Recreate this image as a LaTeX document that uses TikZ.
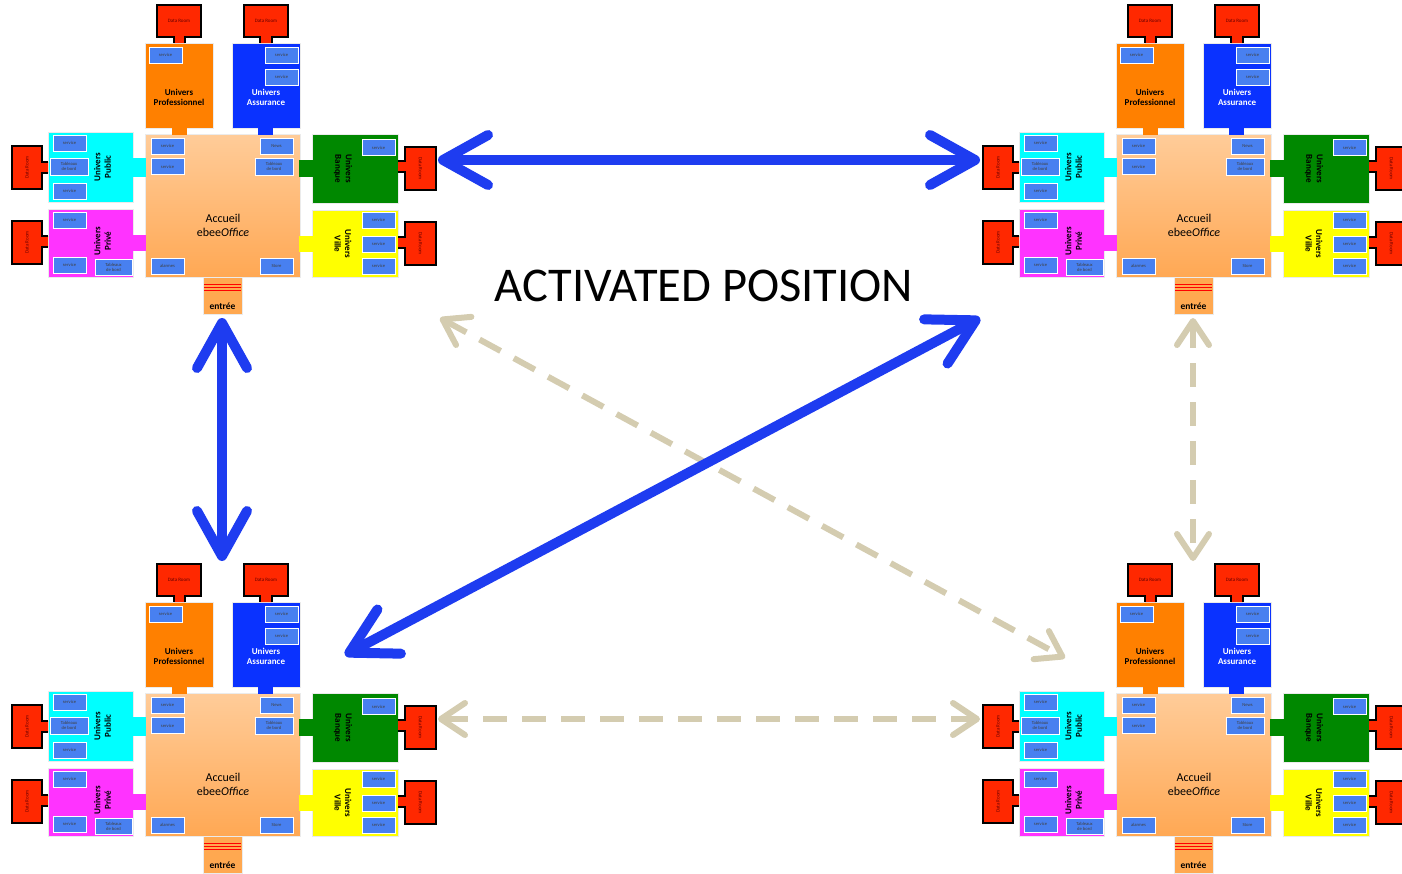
\documentclass[tikz,border=0pt]{standalone}
\usepackage{fontspec}
\setmainfont{Carlito}
\usetikzlibrary{arrows.meta,positioning}

\definecolor{roomred}{RGB}{255,40,0}
\definecolor{svcblue}{RGB}{72,128,240}
\definecolor{proorange}{RGB}{255,128,0}
\definecolor{assblue}{RGB}{10,50,255}
\definecolor{pubcyan}{RGB}{0,255,255}
\definecolor{privmag}{RGB}{255,51,255}
\definecolor{banqgreen}{RGB}{0,136,0}
\definecolor{villeyellow}{RGB}{255,255,0}
\definecolor{acctop}{RGB}{255,204,153}
\definecolor{accbot}{RGB}{255,168,84}
\definecolor{entorange}{RGB}{255,168,80}
\definecolor{linkblue}{RGB}{30,60,240}
\definecolor{linktan}{RGB}{212,204,176}

\tikzset{
  room/.style={draw=black,fill=roomred,line width=1.4pt,line join=miter},
  roomtext/.style={inner sep=0pt,font=\fontsize{5}{6}\selectfont,text=black!60!red},
  svc/.style={draw=white,line width=0.6pt,fill=svcblue,inner sep=0pt,
    minimum width=33pt,minimum height=16pt,align=center,
    font=\fontsize{4.6}{5}\selectfont,text=black!75},
  wide/.style={minimum width=38pt,minimum height=17pt},
  univ/.style={draw=black!8,line width=0.8pt,inner sep=0pt},
  utitle/.style={align=center,font=\fontsize{9}{10.5}\selectfont\bfseries},
  link/.style={linkblue,line width=10pt,line cap=round,
    {Straight Barb[length=45pt,width=50pt,round]}-{Straight Barb[length=45pt,width=50pt,round]}},
  hint/.style={linktan,line width=6pt,dash pattern=on 24pt off 15pt,
    {Straight Barb[length=24pt,width=32pt,round]}-{Straight Barb[length=24pt,width=32pt,round]}},
}

% one ebeeOffice floor: #1 name, (#2,#3) offset
\newcommand{\ebeeoffice}[3]{%
\begin{scope}[shift={(#2,#3)}]
  % universes round the hall
  \node[univ,fill=proorange,minimum width=68pt,minimum height=85pt] (#1-pro) at (179,85.5) {};
  \node[univ,fill=assblue,minimum width=68pt,minimum height=85pt] (#1-ass) at (266,85.5) {};
  \node[univ,fill=pubcyan,minimum width=85pt,minimum height=70pt] (#1-pub) at (90.5,167) {};
  \node[univ,fill=privmag,minimum width=85pt,minimum height=68pt] (#1-priv) at (90.5,243) {};
  \node[univ,fill=banqgreen,minimum width=86pt,minimum height=69pt] (#1-banq) at (355,168.5) {};
  \node[univ,fill=villeyellow,minimum width=86pt,minimum height=67pt] (#1-ville) at (355,243.5) {};
  \node[univ,fill=entorange,minimum width=39pt,minimum height=37pt] (#1-ent) at (222.5,295.5) {};
  \node[univ,top color=acctop,bottom color=accbot,minimum width=155pt,minimum height=143pt] (#1-acc) at (222.5,205.5) {};
  % doors into the hall
  \fill[proorange] (172,127) rectangle (187,135);
  \fill[assblue] (258,127) rectangle (273,135);
  \fill[pubcyan] (132,158) rectangle (146,177);
  \fill[privmag] (132,235) rectangle (146,251);
  \fill[banqgreen] (299,160) rectangle (313,177);
  \fill[villeyellow] (299,236) rectangle (313,252);
  \foreach \y in {284.5,287.5,290.5}
    \draw[red,line width=0.9pt] (204,\y) -- (241,\y);
  % titles
  \node[utitle] (#1-prot) at (179,97.5) {Univers\\Professionnel};
  \node[utitle,text=white] (#1-asst) at (266,97.5) {Univers\\Assurance};
  \node[utitle,rotate=90] (#1-pubt) at (102.5,167) {Univers\\Public};
  \node[utitle,rotate=90] (#1-privt) at (102.5,241) {Univers\\Privé};
  \node[utitle,rotate=-90] (#1-banqt) at (343,169) {Univers\\Banque};
  \node[utitle,rotate=-90] (#1-villet) at (343,244) {Univers\\Ville};
  \node[align=center,font=\fontsize{12}{14}\selectfont] (#1-acct) at (223,225) {Accueil\\ebee\textit{Office}};
  \node[font=\fontsize{9.5}{11}\selectfont\bfseries] (#1-entt) at (222.5,306) {entrée};
  % services
  \foreach \x/\y [count=\i] in {165.5/55,281.5/55,281.5/77,167.5/146,167.5/166.5,
      69.5/143,69.5/191,69.5/220,69.5/265,378.5/147.5,378.5/220,378.5/244,378.5/266}
    \node[svc] (#1-s\i) at (\x,\y) {service};
  \node[svc] (#1-news) at (276.5,146) {News};
  \node[svc] (#1-alarm) at (167.5,266) {alarmes};
  \node[svc] (#1-store) at (276.5,266) {Store};
  \node[svc,wide] (#1-tb1) at (274,166.5) {Tableaux\\de bord};
  \node[svc,wide] (#1-tb2) at (69,166.5) {Tableaux\\de bord};
  \node[svc,wide,minimum width=37pt,minimum height=16pt] (#1-tb3) at (113.5,267) {Tableaux\\de bord};
  % data rooms
  \filldraw[room] (174,43) -- (174,37) -- (157,37) -- (157,5) -- (201,5) -- (201,37) -- (185,37) -- (185,43);
  \filldraw[room] (260,43) -- (260,37) -- (244,37) -- (244,5) -- (288,5) -- (288,37) -- (272,37) -- (272,43);
  \filldraw[room] (48,162) -- (42,162) -- (42,146) -- (12,146) -- (12,189) -- (42,189) -- (42,173) -- (48,173);
  \filldraw[room] (48,236) -- (42,236) -- (42,221) -- (12,221) -- (12,264) -- (42,264) -- (42,247) -- (48,247);
  \filldraw[room] (398,161) -- (405,161) -- (405,147) -- (436,147) -- (436,190) -- (405,190) -- (405,172) -- (398,172);
  \filldraw[room] (398,237) -- (405,237) -- (405,222) -- (436,222) -- (436,265) -- (405,265) -- (405,248) -- (398,248);
  \node[roomtext] (#1-dr1) at (179,21) {Data Room};
  \node[roomtext] (#1-dr2) at (266,21) {Data Room};
  \node[roomtext,rotate=90] (#1-dr3) at (27,167.5) {Data Room};
  \node[roomtext,rotate=90] (#1-dr4) at (27,242.5) {Data Room};
  \node[roomtext,rotate=-90] (#1-dr5) at (420.5,168.5) {Data Room};
  \node[roomtext,rotate=-90] (#1-dr6) at (420.5,243.5) {Data Room};
  % link ends
  \coordinate (#1-n) at (222,2);
  \coordinate (#1-s) at (222,318);
  \coordinate (#1-e) at (438,160);
  \coordinate (#1-w) at (9,160);
  \coordinate (#1-ne) at (345,96);
  \coordinate (#1-sw) at (9,318);
  \coordinate (#1-se) at (440,318);
  \coordinate (#1-nw) at (94,99);
\end{scope}}

\begin{document}
\begin{tikzpicture}[x=1pt,y=-1pt]
  \useasboundingbox (0,0) rectangle (1402,873);
  \ebeeoffice{tl}{0}{0}
  \ebeeoffice{tr}{971}{0}
  \ebeeoffice{bl}{0}{559}
  \ebeeoffice{br}{971}{559}
  \node[font=\fontsize{48.5}{58}\selectfont] (title) at (704,286) {ACTIVATED POSITION};

  % links between the offices
  \draw[hint] (tl-se) -- (br-nw);
  \draw[hint] (tr-s) -- (br-n);
  \draw[hint] (bl-e) -- (br-w);
  \draw[link] (tl-e) -- (tr-w);
  \draw[link] (tl-s) -- (bl-n);
  \draw[link] (bl-ne) -- (tr-sw);
\end{tikzpicture}
\end{document}
